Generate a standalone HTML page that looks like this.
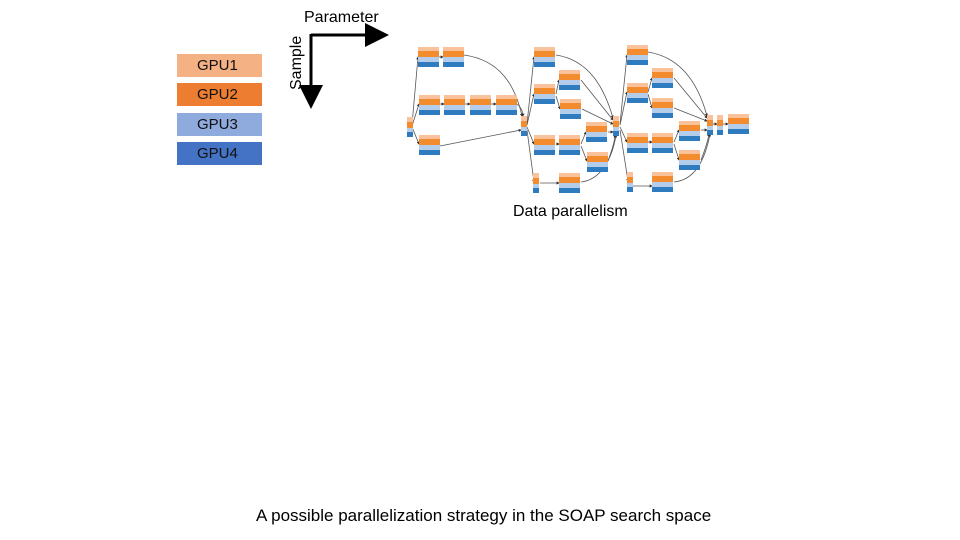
<!DOCTYPE html>
<html><head><meta charset="utf-8"><style>
body{margin:0;background:#fff;}
.wrap{position:relative;width:960px;height:540px;overflow:hidden;font-family:"Liberation Sans",sans-serif;}
.lg{position:absolute;left:177px;width:85px;height:23px;line-height:24px;font-size:15px;color:#111;padding-left:20px;box-sizing:border-box;}
.t{position:absolute;color:#000;white-space:nowrap;}
</style></head><body><div class="wrap">
<div class="lg" style="top:54px;background:#F4B183">GPU1</div>
<div class="lg" style="top:83px;background:#ED7D31">GPU2</div>
<div class="lg" style="top:113px;background:#8FAADC">GPU3</div>
<div class="lg" style="top:142px;background:#4472C4">GPU4</div>
<div class="t" style="left:304px;top:9px;font-size:16px">Parameter</div>
<div class="t" style="left:272px;top:56px;font-size:16px;transform:rotate(-90deg);transform-origin:center;width:50px;text-align:center">Sample</div>
<div class="t" style="left:513px;top:203px;font-size:16px">Data parallelism</div>
<div class="t" style="left:256px;top:506px;font-size:17px">A possible parallelization strategy in the SOAP search space</div>
<svg width="960" height="540" style="position:absolute;left:0;top:0">
<defs>
<g id="n"><rect x="0" y="0" width="21" height="4" fill="#F9C29A"/><rect x="0" y="4" width="21" height="6" fill="#F28C2E"/><rect x="0" y="10" width="21" height="5" fill="#B3CDEB"/><rect x="0" y="15" width="21" height="5" fill="#2F7BBF"/></g>
<g id="s"><rect x="0" y="0" width="6" height="5" fill="#F9C29A"/><rect x="0" y="5" width="6" height="6" fill="#F28C2E"/><rect x="0" y="11" width="6" height="4" fill="#B3CDEB"/><rect x="0" y="15" width="6" height="5" fill="#2F7BBF"/></g>
<marker id="a" markerWidth="8" markerHeight="8" refX="7" refY="4" orient="auto"><path d="M0,0L8,4L0,8z" fill="#000"/></marker>
<marker id="b" markerWidth="4" markerHeight="4" refX="3" refY="2" orient="auto"><path d="M0,0L4,2L0,4z" fill="#333"/></marker>
</defs>
<path d="M311,35H386" stroke="#000" stroke-width="3" marker-end="url(#a)"/>
<path d="M311,34V106" stroke="#000" stroke-width="3" marker-end="url(#a)"/>
<g fill="none" stroke="#555" stroke-width="0.8" marker-end="url(#b)">
<path d="M412,125 L418,57"/><path d="M412,126 L419,104"/><path d="M412,127 L419,144"/>
<path d="M439,57H443"/><path d="M440,104H444"/><path d="M465,104H470"/><path d="M491,104H496"/>
<path d="M464,55 C500,60 515,85 522,116"/><path d="M517,104 C522,108 523,112 523,116"/>
<path d="M440,146 L521,130"/>
<path d="M527,124 L534,57"/><path d="M527,125 L534,94"/><path d="M527,127 L534,144"/><path d="M527,130 L534,182"/>
<path d="M556,94 L559,80"/><path d="M556,96 L560,109"/><path d="M556,144H559"/>
<path d="M581,144 L586,132"/><path d="M581,146 L587,161"/><path d="M540,183H559"/>
<path d="M556,55 C590,60 605,90 613,118"/><path d="M581,80 L613,120"/><path d="M582,109 L613,124"/><path d="M608,132H613"/><path d="M608,161 C612,150 615,140 615,135"/><path d="M581,182 C600,180 612,160 616,135"/>
<path d="M620,124 L627,55"/><path d="M620,125 L627,92"/><path d="M620,127 L627,142"/><path d="M620,130 L628,181"/>
<path d="M648,92 L652,78"/><path d="M648,94 L652,108"/><path d="M648,142H652"/><path d="M632,186H652"/>
<path d="M674,142 L679,130"/><path d="M674,144 L679,160"/>
<path d="M648,52 C685,58 700,90 707,116"/><path d="M674,78 L707,118"/><path d="M674,108 L707,121"/><path d="M701,130H707"/><path d="M701,160 C705,150 708,140 709,134"/><path d="M674,182 C695,180 705,160 710,134"/>
<path d="M712,124H717"/><path d="M722,124H728"/>
</g>
<use href="#s" x="407" y="117"/>
<use href="#n" x="418" y="47"/><use href="#n" x="443" y="47"/>
<use href="#n" x="419" y="95"/><use href="#n" x="444" y="95"/><use href="#n" x="470" y="95"/><use href="#n" x="496" y="95"/>
<use href="#n" x="419" y="135"/>
<use href="#s" x="521" y="116"/>
<use href="#n" x="534" y="47"/><use href="#n" x="534" y="84"/><use href="#n" x="559" y="70"/><use href="#n" x="560" y="99"/>
<use href="#n" x="534" y="135"/><use href="#n" x="559" y="135"/><use href="#n" x="586" y="122"/><use href="#n" x="587" y="152"/>
<use href="#s" x="533" y="173"/><use href="#n" x="559" y="173"/>
<use href="#s" x="613" y="116"/>
<use href="#n" x="627" y="45"/><use href="#n" x="627" y="83"/><use href="#n" x="652" y="68"/><use href="#n" x="652" y="98"/>
<use href="#n" x="627" y="133"/><use href="#n" x="652" y="133"/><use href="#n" x="679" y="121"/><use href="#n" x="679" y="150"/>
<use href="#s" x="627" y="172"/><use href="#n" x="652" y="172"/>
<use href="#s" x="707" y="115"/><use href="#s" x="717" y="115"/><use href="#n" x="728" y="114"/>
</svg>
</div></body></html>
